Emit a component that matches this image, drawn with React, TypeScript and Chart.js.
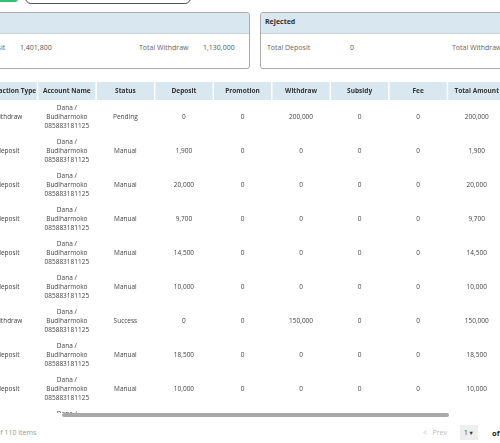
import React, { useEffect, useRef } from "react";
import { Chart, registerables } from "chart.js";

Chart.register(...registerables);

const columns = ["Transaction Type", "Account Name", "Status", "Deposit", "Promotion", "Withdraw", "Subsidy", "Fee", "Total Amount"];
const transactionTypes = ["withdraw", "deposit", "deposit", "deposit", "deposit", "deposit", "withdraw", "deposit", "deposit", ""];
const accountNames = ["Dana /", "Budiharmoko", "085883181125"];
const statuses = ["Pending", "Manual", "Manual", "Manual", "Manual", "Manual", "Success", "Manual", "Manual", ""];
const deposits = [0, 1900, 20000, 9700, 14500, 10000, 0, 18500, 10000, null];
const promotions = [0, 0, 0, 0, 0, 0, 0, 0, 0, null];
const withdraws = [200000, 0, 0, 0, 0, 0, 150000, 0, 0, null];
const subsidies = [0, 0, 0, 0, 0, 0, 0, 0, 0, null];
const fees = [0, 0, 0, 0, 0, 0, 0, 0, 0, null];
const totals = [200000, 1900, 20000, 9700, 14500, 10000, 150000, 18500, 10000, null];

const approvedDeposit = "1,401,800";
const approvedWithdraw = "1,130,000";
const rejectedDeposit = "0";
const totalItems = 110;

const FONT = '"Open Sans", "DejaVu Sans", sans-serif';

function fmt(v: number | null): string {
  if (v === null || v === undefined) return "";
  return v.toLocaleString("en-US");
}

function cellText(col: number, row: number): string[] {
  switch (col) {
    case 0: return [transactionTypes[row]];
    case 1: return accountNames;
    case 2: return [statuses[row]];
    case 3: return [fmt(deposits[row])];
    case 4: return [fmt(promotions[row])];
    case 5: return [fmt(withdraws[row])];
    case 6: return [fmt(subsidies[row])];
    case 7: return [fmt(fees[row])];
    case 8: return [fmt(totals[row])];
  }
  return [""];
}

const HEADER_H = 18;

const tablePlugin = {
  id: "tablePlugin",
  afterDatasetsDraw(chart: any) {
    const ctx = chart.ctx;
    const x = chart.scales.x;
    const y = chart.scales.y;
    const area = chart.chartArea;
    const colW = x.getPixelForValue(1) - x.getPixelForValue(0);
    ctx.save();
    // header
    ctx.fillStyle = "#d9e7f1";
    ctx.fillRect(area.left, area.top - HEADER_H, area.right - area.left, HEADER_H);
    ctx.strokeStyle = "#ffffff";
    ctx.lineWidth = 1.5;
    for (let c = 1; c < columns.length; c++) {
      const bx = x.getPixelForValue(c) - colW / 2;
      ctx.beginPath();
      ctx.moveTo(bx, area.top - HEADER_H);
      ctx.lineTo(bx, area.top);
      ctx.stroke();
    }
    ctx.textAlign = "center";
    ctx.textBaseline = "middle";
    ctx.fillStyle = "#333333";
    ctx.font = `bold 6.5px ${FONT}`;
    columns.forEach((c, i) => {
      ctx.fillText(c, x.getPixelForValue(i), area.top - HEADER_H / 2);
    });
    // cells
    ctx.font = `6.5px ${FONT}`;
    ctx.fillStyle = "#444444";
    for (let r = 0; r < transactionTypes.length; r++) {
      const cy = y.getPixelForValue(r);
      for (let c = 0; c < columns.length; c++) {
        const lines = cellText(c, r);
        const lh = 9.3;
        const start = cy - ((lines.length - 1) * lh) / 2;
        lines.forEach((t, k) => {
          if (t) ctx.fillText(t, x.getPixelForValue(c), start + k * lh);
        });
      }
    }
    ctx.restore();
  },
};

function TableChart() {
  const ref = useRef<HTMLCanvasElement | null>(null);
  useEffect(() => {
    if (!ref.current) return;
    const points: any[] = [];
    transactionTypes.forEach((_, r) => {
      columns.forEach((c) => points.push({ x: c, y: r }));
    });
    const chart = new Chart(ref.current, {
      type: "scatter",
      data: {
        datasets: [
          {
            data: points,
            pointRadius: 0,
            pointHoverRadius: 0,
          },
        ],
      },
      options: {
        animation: false,
        responsive: false,
        events: [],
        layout: { padding: { top: HEADER_H, left: 0, right: 0, bottom: 0 } },
        plugins: { legend: { display: false }, tooltip: { enabled: false } },
        scales: {
          x: { type: "category", labels: columns, offset: true, display: false },
          y: { type: "linear", min: -0.5, max: transactionTypes.length - 0.5, reverse: true, display: false },
        },
      },
      plugins: [tablePlugin],
    } as any);
    return () => chart.destroy();
  }, []);
  return <canvas ref={ref} width={527} height={HEADER_H + 340} style={{ width: 527, height: HEADER_H + 340, display: "block" }} />;
}

const abs = (o: React.CSSProperties): React.CSSProperties => ({ position: "absolute", whiteSpace: "nowrap", ...o });

export default function App() {
  useEffect(() => {
    document.body.style.margin = "0";
  }, []);
  const txt: React.CSSProperties = { fontFamily: FONT, fontSize: 7, lineHeight: "10px", color: "#666" };
  return (
    <div style={{ position: "fixed", left: 0, top: 0, width: 500, height: 443, overflow: "hidden", background: "#fff", fontFamily: FONT }}>
      {/* top buttons */}
      <div style={abs({ left: -4, top: -12, width: 22, height: 14, background: "#35c172", borderRadius: 3 })} />
      <div style={abs({ left: 25, top: -16, width: 164, height: 18, border: "1px solid #555", borderRadius: 6 })} />

      {/* card approved */}
      <div style={abs({ left: -6, top: 12, width: 254, height: 55, border: "1px solid #aaa", borderRadius: 3, overflow: "hidden" })}>
        <div style={{ height: 20, background: "#d9e7f1", borderBottom: "1px solid #c5d3dc" }} />
      </div>
      <div style={abs({ ...txt, left: -38, top: 43 })}>Total Deposit</div>
      <div style={abs({ ...txt, left: 20, top: 43, color: "#555" })}>{approvedDeposit}</div>
      <div style={abs({ ...txt, left: 139, top: 43 })}>Total Withdraw</div>
      <div style={abs({ ...txt, left: 203, top: 43, color: "#555" })}>{approvedWithdraw}</div>

      {/* card rejected */}
      <div style={abs({ left: 260, top: 12, width: 300, height: 55, border: "1px solid #aaa", borderRadius: 3, overflow: "hidden" })}>
        <div style={{ height: 20, background: "#d9e7f1", borderBottom: "1px solid #c5d3dc" }} />
      </div>
      <div style={abs({ ...txt, left: 265, top: 17, fontWeight: "bold", color: "#333" })}>Rejected</div>
      <div style={abs({ ...txt, left: 267, top: 43 })}>Total Deposit</div>
      <div style={abs({ ...txt, left: 350, top: 43, color: "#555" })}>{rejectedDeposit}</div>
      <div style={abs({ ...txt, left: 452, top: 43 })}>Total Withdraw</div>

      {/* table */}
      <div style={abs({ left: -21, top: 82, width: 527, height: 331, overflow: "hidden" })}>
        <TableChart />
      </div>
      {/* scrollbar */}
      <div style={abs({ left: 62, top: 413, width: 387, height: 4, background: "#a9a9a9", borderRadius: 2 })} />

      {/* footer */}
      <div style={abs({ ...txt, left: -4, top: 428, color: "#999" })}>of {totalItems} items</div>
      <div style={abs({ ...txt, left: 423, top: 428, color: "#bbb" })}>{"<"}&nbsp;&nbsp;&nbsp;Prev</div>
      <div style={abs({ left: 460, top: 425, width: 18, height: 15, background: "#eeeeee", borderRadius: 1 })} />
      <div style={abs({ ...txt, left: 464, top: 428, color: "#333", fontSize: 6.5 })}>1 ▾</div>
      <div style={abs({ ...txt, left: 492, top: 428, color: "#222", fontWeight: "bold", fontSize: 7.5 })}>of</div>
    </div>
  );
}
